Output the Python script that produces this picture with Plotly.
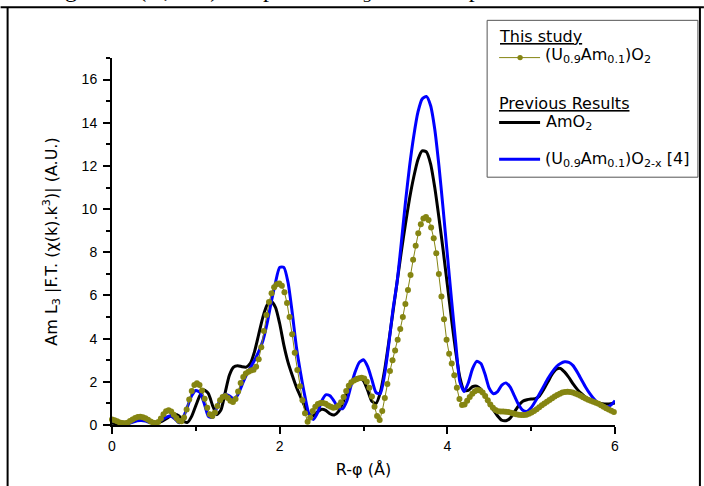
import numpy as np
import plotly.graph_objects as go

# ---------------- data ----------------
# This study: (U0.9Am0.1)O2, FT grid step 0.0307 Å
r_study_step = 0.0307
study_vals = [
    0.26, 0.22, 0.17, 0.12, 0.09, 0.08, 0.11, 0.18, 0.26, 0.33,
    0.37, 0.38, 0.36, 0.31, 0.24, 0.16, 0.10, 0.08, 0.14, 0.30,
    0.50, 0.64, 0.68, 0.62, 0.48, 0.32, 0.20, 0.17, 0.35, 0.72,
    1.18, 1.58, 1.85, 1.93, 1.85, 1.60, 1.22, 0.80, 0.50, 0.42,
    0.58, 0.88, 1.15, 1.30, 1.34, 1.25, 1.12, 1.06, 1.20, 1.55,
    1.95, 2.22, 2.38, 2.47, 2.52, 2.56, 2.70, 3.05, 3.60, 4.35,
    5.10, 5.70, 6.10, 6.38, 6.52, 6.56, 6.45, 6.15, 5.65, 5.00,
    4.20, 3.35, 2.55, 1.80, 1.15, 0.55, 0.15, 0.35, 0.65, 0.85,
    0.97, 1.02, 1.02, 0.98, 0.90, 0.84, 0.80, 0.82, 0.90, 1.05,
    1.30, 1.58, 1.82, 1.98, 2.06, 2.12, 2.17, 2.19, 2.15, 2.00,
    1.72, 1.32, 0.85, 0.42, 0.23, 0.65, 1.25, 1.90, 2.50, 3.00,
    3.45, 3.95, 4.45, 5.00, 5.60, 6.25, 6.95, 7.65, 8.30, 8.88,
    9.30, 9.57, 9.64, 9.50, 9.15, 8.65, 7.95, 7.00, 5.95, 4.90,
    3.95, 3.30, 2.85, 2.30, 1.72, 1.20, 0.93, 0.95, 1.12, 1.30,
    1.45, 1.56, 1.62, 1.60, 1.50, 1.34, 1.15, 0.95, 0.80, 0.70,
    0.64, 0.62, 0.62, 0.61, 0.60, 0.57, 0.53, 0.50, 0.47, 0.46,
    0.46, 0.48, 0.52, 0.58, 0.65, 0.73, 0.82, 0.91, 1.00, 1.08,
    1.16, 1.24, 1.32, 1.39, 1.45, 1.50, 1.53, 1.54, 1.53, 1.50,
    1.46, 1.41, 1.35, 1.29, 1.23, 1.17, 1.12, 1.08, 1.03, 0.98,
    0.92, 0.85, 0.78, 0.72, 0.66, 0.60,
]
r_study = [round(i * r_study_step, 4) for i in range(len(study_vals))]

# Previous results, sampled every 0.05 Å
r_prev_step = 0.05
amo2_vals = [
    0.08, 0.07, 0.05, 0.06, 0.12, 0.18, 0.23, 0.26, 0.25, 0.20,
    0.14, 0.12, 0.18, 0.30, 0.42, 0.50, 0.42, 0.18, 0.12, 0.40,
    0.90, 1.38, 1.62, 1.45, 0.90, 0.48, 0.70, 1.50, 2.30, 2.68,
    2.75, 2.70, 2.68, 2.85, 3.40, 4.20, 5.00, 5.55, 5.72, 5.45,
    4.70, 3.70, 2.90, 2.30, 1.75, 1.30, 0.85, 0.50, 0.42, 0.60,
    0.73, 0.68, 0.52, 0.46, 0.62, 1.00, 1.50, 1.92, 2.15, 2.20,
    2.05, 1.60, 1.10, 1.00, 1.50, 2.50, 3.80, 5.20, 6.60, 8.00,
    9.30, 10.50, 11.50, 12.30, 12.70, 12.65, 12.10, 11.00, 9.60, 8.10,
    6.50, 4.90, 3.40, 2.20, 1.60, 1.60, 1.78, 1.80, 1.65, 1.35,
    1.00, 0.70, 0.42, 0.22, 0.20, 0.32, 0.60, 0.90, 1.10, 1.17,
    1.20, 1.22, 1.35, 1.65, 2.00, 2.35, 2.58, 2.62, 2.45, 2.20,
    1.90, 1.65, 1.45, 1.28, 1.15, 1.08, 1.02, 0.98, 0.97, 0.98,
    1.02,
]
uamox_vals = [
    0.19, 0.15, 0.08, 0.04, 0.06, 0.14, 0.20, 0.21, 0.18, 0.12,
    0.10, 0.14, 0.25, 0.37, 0.42, 0.28, 0.10, 0.35, 0.85, 1.35,
    1.60, 1.50, 1.00, 0.40, 0.35, 0.80, 1.25, 1.42, 1.35, 1.22,
    1.40, 1.85, 2.30, 2.65, 3.00, 3.40, 3.90, 4.70, 5.70, 6.60,
    7.30, 7.30, 6.60, 5.20, 3.60, 2.40, 1.35, 0.50, 0.25, 0.55,
    1.10, 1.40, 1.35, 1.10, 0.80, 0.75, 1.10, 1.80, 2.45, 2.90,
    3.02, 2.70, 2.10, 1.50, 1.45, 2.30, 3.70, 5.30, 6.60, 8.40,
    10.30, 12.00, 13.40, 14.50, 15.10, 15.22, 14.80, 13.70, 12.00, 10.00,
    7.90, 5.80, 3.80, 2.00, 1.55, 1.95, 2.60, 2.95, 2.85, 2.35,
    1.70, 1.45, 1.55, 1.85, 1.95, 1.75, 1.35, 0.95, 0.68, 0.63,
    0.80, 1.10, 1.45, 1.80, 2.15, 2.45, 2.70, 2.85, 2.93, 2.90,
    2.75, 2.45, 2.10, 1.75, 1.45, 1.20, 1.00, 0.87, 0.82, 0.92,
    1.13,
]
r_prev = [round(i * r_prev_step, 4) for i in range(len(amo2_vals))]

x_ticks = [0, 2, 4, 6]
y_ticks = [0, 2, 4, 6, 8, 10, 12, 14, 16]

OLIVE = "#858512"
FONT = "Arial, Liberation Sans, sans-serif"
TFONT = "DejaVu Sans, Arial, sans-serif"

# ---------------- figure ----------------
W, H = 704, 486
L, R_, T, B = 111.5, 615.0, 57.7, 425.0


def px(xp):
    return (xp - L) / (R_ - L)


def py(yp):
    return (B - yp) / (B - T)


fig = go.Figure()
fig.add_trace(go.Scatter(
    x=r_prev, y=amo2_vals, mode="lines", line=dict(color="black", width=3, shape="spline", smoothing=0.6),
    name="AmO2", showlegend=False, hoverinfo="skip"))
fig.add_trace(go.Scatter(
    x=r_prev, y=uamox_vals, mode="lines", line=dict(color="#0000FF", width=3, shape="spline", smoothing=0.6),
    name="(U0.9Am0.1)O2-x [4]", showlegend=False, hoverinfo="skip"))
fig.add_trace(go.Scatter(
    x=r_study, y=study_vals, mode="lines+markers",
    line=dict(color=OLIVE, width=1),
    marker=dict(color=OLIVE, size=6, symbol="circle"),
    name="(U0.9Am0.1)O2", showlegend=False, hoverinfo="skip", cliponaxis=False))

fig.update_layout(
    width=W, height=H,
    margin=dict(l=L, r=W - R_, t=T, b=H - B, pad=0, autoexpand=False),
    paper_bgcolor="white", plot_bgcolor="white",
    font=dict(family=FONT, size=14, color="black"),
    showlegend=False,
)
fig.update_xaxes(
    range=[0, 6], tickvals=x_ticks, ticks="outside", ticklen=7, tickwidth=1.5,
    tickcolor="black", showline=True, linecolor="black", linewidth=2,
    showgrid=False, zeroline=False, tickfont=dict(size=14), automargin=False,
    minor=dict(dtick=1, ticks="outside", ticklen=4, tickwidth=1.5, tickcolor="black", showgrid=False),
    title=dict(text="R-φ (Å)", font=dict(size=16, family=TFONT), standoff=11),
)
fig.update_yaxes(
    range=[0, 17], tickvals=y_ticks, ticks="outside", ticklen=7, tickwidth=1.5,
    tickcolor="black", showline=True, linecolor="black", linewidth=2,
    showgrid=False, zeroline=False, tickfont=dict(size=14), automargin=False, ticklabelstandoff=3,
    minor=dict(dtick=1, ticks="outside", ticklen=4, tickwidth=1.5, tickcolor="black", showgrid=False),
    title=dict(text="Am L<sub>3</sub> |F.T. (χ(k).k<sup>3</sup>)| (A.U.)", font=dict(size=16, family=TFONT),
               standoff=20),
)

shapes = []
# page frame (table cell borders)
shapes.append(dict(type="line", xref="paper", yref="paper", x0=px(0), x1=px(W), y0=py(7), y1=py(7),
                   line=dict(color="black", width=2)))
shapes.append(dict(type="line", xref="paper", yref="paper", x0=px(7), x1=px(7), y0=py(7), y1=py(H + 2),
                   line=dict(color="black", width=2)))
shapes.append(dict(type="line", xref="paper", yref="paper", x0=px(700), x1=px(700), y0=py(7), y1=py(H + 2),
                   line=dict(color="black", width=2)))
# legend box
shapes.append(dict(type="rect", xref="paper", yref="paper", x0=px(487), x1=px(698), y0=py(177), y1=py(20),
                   line=dict(color="#555555", width=1), fillcolor="white", layer="above"))
# legend samples
shapes.append(dict(type="line", xref="paper", yref="paper", x0=px(499), x1=px(540), y0=py(57.3), y1=py(57.3),
                   line=dict(color=OLIVE, width=1), layer="above"))
shapes.append(dict(type="circle", xref="paper", yref="paper", x0=px(517.3), x1=px(522.7), y0=py(60), y1=py(54.6),
                   line=dict(color=OLIVE, width=0), fillcolor=OLIVE, layer="above"))
shapes.append(dict(type="line", xref="paper", yref="paper", x0=px(499), x1=px(540), y0=py(122.3), y1=py(122.3),
                   line=dict(color="black", width=3), layer="above"))
shapes.append(dict(type="line", xref="paper", yref="paper", x0=px(499), x1=px(540), y0=py(159), y1=py(159),
                   line=dict(color="#0000FF", width=3), layer="above"))
fig.update_layout(shapes=shapes)

ann = []
def add_text(txt, x, yc, size=16):
    ann.append(dict(text=txt, xref="paper", yref="paper", x=px(x), y=py(yc), xanchor="left",
                    yanchor="middle", showarrow=False, font=dict(size=size, family=TFONT, color="black")))

add_text("<u>This study</u>", 497, 36)
add_text("(U<sub>0.9</sub>Am<sub>0.1</sub>)O<sub>2</sub>", 543, 55)
add_text("<u>Previous Results</u>", 497, 103)
add_text("AmO<sub>2</sub>", 544, 122)
add_text("(U<sub>0.9</sub>Am<sub>0.1</sub>)O<sub>2-x</sub> [4]", 543, 159)
# clipped caption text of the source page
ann.append(dict(text="Figure 4: (U, Am) samples Am L<sub>3</sub> EXAFS spectra", xref="paper", yref="paper",
                x=px(42), y=py(8), xanchor="left", yanchor="bottom", showarrow=False,
                font=dict(size=24, family="Liberation Serif, serif", color="black")))
fig.update_layout(annotations=ann)

fig.write_html("out.html", config={"displayModeBar": False},
               post_script="document.body.style.margin='0';document.body.style.overflow='hidden';")
